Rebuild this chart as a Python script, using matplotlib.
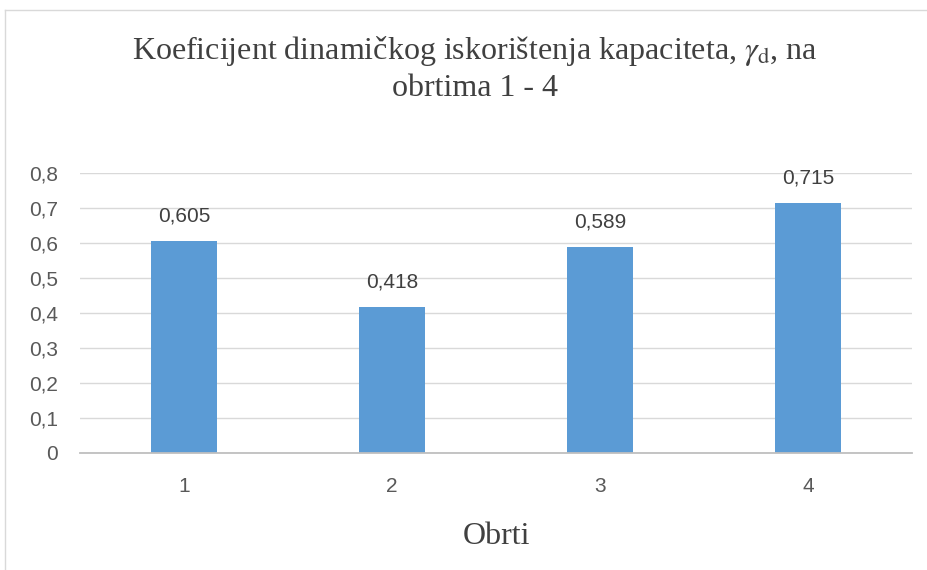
import matplotlib.pyplot as plt
from matplotlib.lines import Line2D

categories = ['1', '2', '3', '4']
values = [0.605, 0.418, 0.589, 0.715]
yticks = [0, 0.1, 0.2, 0.3, 0.4, 0.5, 0.6, 0.7, 0.8]

fig = plt.figure(figsize=(9.27, 5.7), dpi=100)
ax = fig.add_axes([80/927, 1-453/570, 832/927, 280/570])

x = range(len(categories))
ax.bar(x, values, width=0.317, color='#5B9BD5', zorder=3)
for i, v in enumerate(values):
    ax.annotate(('%.3f' % v).replace('.', ','), (i, v), xytext=(0, 18),
                textcoords='offset points', ha='center', va='center',
                fontsize=15, color='#404040', family='Liberation Sans')

ax.set_xlim(-0.5, len(categories) - 0.5)
ax.set_ylim(0, 0.8)
ax.set_yticks(yticks)
ax.set_yticklabels([('%g' % t).replace('.', ',') for t in yticks])
ax.set_xticks(list(x))
ax.set_xticklabels(categories)
ax.tick_params(length=0, labelsize=15, labelcolor='#595959')
for lbl in ax.get_xticklabels() + ax.get_yticklabels():
    lbl.set_family('Liberation Sans')
ax.tick_params(axis='x', pad=17)
ax.tick_params(axis='y', pad=16)
ax.grid(axis='y', color='#d9d9d9', linewidth=1, zorder=0)
for s in ['top', 'right', 'left']:
    ax.spines[s].set_visible(False)
ax.spines['bottom'].set_color('#bfbfbf')
ax.spines['bottom'].set_linewidth(1.3)
ax.spines['bottom'].set_zorder(4)

ax.set_xlabel('Obrti', family='Liberation Serif', fontsize=23, color='#404040', labelpad=19)
fig.text(475/927, 1-51/570, r'Koeficijent dinamičkog iskorištenja kapaciteta, $\gamma_{\mathrm{d}}$, na',
         ha='center', va='center', family='Liberation Serif', fontsize=23, color='#404040',
         math_fontfamily='stix')
fig.text(475/927, 1-89/570, 'obrtima 1 - 4', ha='center', va='center',
         family='Liberation Serif', fontsize=23, color='#404040')

# chart area border (cropped on right and bottom)
fig.add_artist(Line2D([5/927, 5/927], [0, 1-10/570], color='#d9d9d9', lw=1, transform=fig.transFigure))
fig.add_artist(Line2D([5/927, 1], [1-10/570, 1-10/570], color='#d9d9d9', lw=1, transform=fig.transFigure))

fig.savefig('out.png', dpi=100)
